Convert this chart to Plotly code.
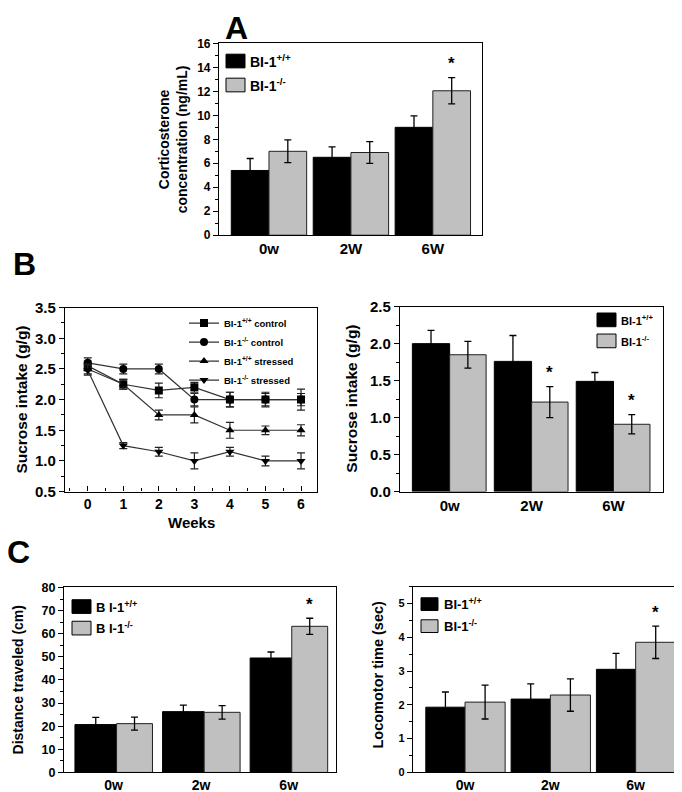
import plotly.graph_objects as go

W, H = 682, 792


def px(x):
    return x / W


def py(y):
    return 1 - y / H


# ---------------- data ----------------
# Panel A: corticosterone
cort_cats = ["0w", "2W", "6W"]
cort_wt = [5.4, 6.5, 9.0]
cort_wt_err = [1.0, 0.87, 0.95]
cort_ko = [7.0, 6.9, 12.05]
cort_ko_err = [0.95, 0.9, 1.1]

# Panel B left: sucrose intake time course
weeks = [0, 1, 2, 3, 4, 5, 6]
suc_wt_ctrl = [2.55, 2.25, 2.15, 2.2, 2.0, 2.0, 2.0]
suc_wt_ctrl_err = [0.08, 0.08, 0.12, 0.08, 0.12, 0.12, 0.1]
suc_ko_ctrl = [2.6, 2.5, 2.5, 2.0, 2.0, 2.0, 2.0]
suc_ko_ctrl_err = [0.08, 0.08, 0.08, 0.1, 0.12, 0.1, 0.17]
suc_wt_str = [2.5, 2.25, 1.75, 1.75, 1.5, 1.5, 1.5]
suc_wt_str_err = [0.08, 0.08, 0.08, 0.13, 0.13, 0.07, 0.09]
suc_ko_str = [2.48, 1.25, 1.15, 1.0, 1.15, 1.0, 1.0]
suc_ko_str_err = [0.08, 0.05, 0.07, 0.13, 0.07, 0.08, 0.13]

# Panel B right: sucrose intake bars
suc_cats = ["0w", "2W", "6W"]
suc_bar_wt = [2.0, 1.76, 1.49]
suc_bar_wt_err = [0.18, 0.35, 0.12]
suc_bar_ko = [1.85, 1.21, 0.91]
suc_bar_ko_err = [0.18, 0.21, 0.13]

# Panel C left: distance traveled
loc_cats = ["0w", "2w", "6w"]
dist_wt = [20.7, 26.3, 49.5]
dist_wt_err = [3.1, 2.8, 2.6]
dist_ko = [21.1, 26.0, 63.2]
dist_ko_err = [2.8, 2.9, 3.5]

# Panel C right: locomotor time
loco_wt = [1.93, 2.17, 3.05]
loco_wt_err = [0.45, 0.45, 0.47]
loco_ko = [2.08, 2.29, 3.85]
loco_ko_err = [0.5, 0.48, 0.48]

BLACK = "#000000"
GRAY = "#c0c0c0"
FONT = "Liberation Sans, Arial, sans-serif"

fig = go.Figure()


def err(vals, w=3.5):
    return dict(type="data", array=vals, visible=True, color="black",
                thickness=1.3, width=w)


def add_bar_pair(cats, wt, wt_e, ko, ko_e, xa, ya, ow, ww, og, wg):
    fig.add_trace(go.Bar(x=cats, y=wt, error_y=err(wt_e), marker=dict(
        color=BLACK, line=dict(color="black", width=1)), offset=ow, width=ww,
        xaxis=xa, yaxis=ya, showlegend=False))
    fig.add_trace(go.Bar(x=cats, y=ko, error_y=err(ko_e), marker=dict(
        color=GRAY, line=dict(color="#202020", width=1)), offset=og, width=wg,
        xaxis=xa, yaxis=ya, showlegend=False))


add_bar_pair(cort_cats, cort_wt, cort_wt_err, cort_ko, cort_ko_err,
             "x", "y", -0.46, 0.46, 0.0, 0.46)
add_bar_pair(suc_cats, suc_bar_wt, suc_bar_wt_err, suc_bar_ko, suc_bar_ko_err,
             "x3", "y3", -0.455, 0.455, 0.0, 0.445)
add_bar_pair(loc_cats, dist_wt, dist_wt_err, dist_ko, dist_ko_err,
             "x4", "y4", -0.44, 0.475, 0.035, 0.41)
add_bar_pair(loc_cats, loco_wt, loco_wt_err, loco_ko, loco_ko_err,
             "x5", "y5", -0.46, 0.46, 0.0, 0.47)

# time course
series = [
    ("BI-1<sup>+/+</sup> control", suc_wt_ctrl, suc_wt_ctrl_err, "square"),
    ("BI-1<sup>-/-</sup> control", suc_ko_ctrl, suc_ko_ctrl_err, "circle"),
    ("BI-1<sup>+/+</sup> stressed", suc_wt_str, suc_wt_str_err, "triangle-up"),
    ("BI-1<sup>-/-</sup> stressed", suc_ko_str, suc_ko_str_err, "triangle-down"),
]
for i, (name, vals, e, sym) in enumerate(series):
    fig.add_trace(go.Scatter(
        x=weeks, y=vals, name=name, mode="lines+markers",
        line=dict(color="#333333", width=1.2),
        marker=dict(symbol=sym, size=8, color="black"),
        error_y=dict(type="data", array=e, visible=True, color="#222222",
                     thickness=1.2, width=4),
        xaxis="x2", yaxis="y2"))


def yax(y0, y1, rng, dtick, minor, anchor, fsize=12):
    return dict(domain=[py(y1), py(y0)], range=rng, dtick=dtick,
                anchor=anchor, showline=True, mirror=True, linecolor="black",
                linewidth=1.2, ticks="outside", ticklen=5, tickwidth=1.2,
                tickcolor="black", showgrid=False, zeroline=False,
                minor=dict(dtick=minor, ticks="outside", ticklen=3,
                           tickcolor="black", tickwidth=1),
                tickfont=dict(family=FONT, size=fsize, color="black", weight="bold"))


def xcat(x0, x1, rng, anchor, fsize=15):
    return dict(domain=[px(x0), px(x1)], range=rng, type="category",
                anchor=anchor, showline=True, mirror=True, linecolor="black",
                linewidth=1.2, ticks="", showgrid=False, zeroline=False,
                tickfont=dict(family=FONT, size=fsize, color="black", weight="bold"))


layout = dict(
    width=W, height=H, margin=dict(l=0, r=0, t=0, b=0),
    paper_bgcolor="white", plot_bgcolor="white", barmode="overlay",
    font=dict(family=FONT, color="black"),
)

# A
layout["xaxis"] = xcat(211, 474, [-0.61, 2.6], "y", 15)
layout["yaxis"] = yax(27, 223, [0, 16], 2, 1, "x", 12)
# B left
layout["xaxis2"] = dict(domain=[px(57), px(309)], range=[-0.64, 6.45], dtick=1,
                        anchor="y2", showline=True, mirror=True, linecolor="black",
                        linewidth=1.2, ticks="inside", ticklen=5, tickwidth=1.2,
                        tickcolor="black", showgrid=False, zeroline=False,
                        minor=dict(dtick=0.5, ticks="inside", ticklen=3,
                                   tickcolor="black"),
                        tickfont=dict(family=FONT, size=14, color="black", weight="bold"))
layout["yaxis2"] = yax(297, 485, [0.5, 3.5], 0.5, 0.25, "x2", 15)
layout["yaxis2"]["tickformat"] = ".1f"
# B right
layout["xaxis3"] = xcat(392, 655, [-0.606, 2.604], "y3", 15)
layout["yaxis3"] = yax(296, 485, [0, 2.5], 0.5, 0.25, "x3", 15)
layout["yaxis3"]["tickformat"] = ".1f"
# C left
layout["xaxis4"] = xcat(56, 328, [-0.565, 2.54], "y4", 14)
layout["yaxis4"] = yax(583, 772, [0, 80], 10, 5, "x4", 12.5)
# C right
layout["xaxis5"] = xcat(405, 678, [-0.61, 2.59], "y5", 14)
layout["yaxis5"] = yax(582, 772, [0, 5.5], 1, 0.5, "x5", 11)

layout["legend"] = dict(x=px(176), y=py(298), xanchor="left", yanchor="top",
                        bgcolor="rgba(0,0,0,0)", borderwidth=0,
                        itemwidth=30, tracegroupgap=0,
                        font=dict(family=FONT, size=9.5, color="black", weight="bold"))
fig.update_layout(**layout)

ann = []
shapes = []


def text(x, y, t, size, angle=0, xanchor="center"):
    ann.append(dict(x=px(x), y=py(y), xref="paper", yref="paper", text=t,
                    showarrow=False, textangle=angle, xanchor=xanchor,
                    yanchor="middle",
                    font=dict(family=FONT, size=size, color="black", weight="bold")))


# panel letters
text(215, 11, "A", 32, xanchor="left")
text(3, 252, "B", 32, xanchor="left")
text(-3, 547, "C", 32, xanchor="left")

# y titles
text(165, 125, "Corticosterone<br>concentration (ng/mL)", 14, -90)
text(14, 391, "Sucrose intake (g/g)", 15.5, -90)
text(344, 390, "Sucrose intake (g/g)", 15.5, -90)
text(10, 678, "Distance traveled (cm)", 14, -90)
text(370, 672, "Locomotor time (sec)", 14.5, -90)
text(183, 517, "Weeks", 15)


# legends built from shapes + text
def box_legend(x0, x1, yb1, yb2, tx, size, label, h=14):
    for yc_, col, sup in ((yb1, BLACK, "+/+"), (yb2, GRAY, "-/-")):
        shapes.append(dict(type="rect", xref="paper", yref="paper",
                           x0=px(x0), x1=px(x1), y0=py(yc_ + h / 2), y1=py(yc_ - h / 2),
                           fillcolor=col, line=dict(color="black", width=1)))
        text(tx, yc_, f"{label}<sup>{sup}</sup>", size, xanchor="left")


box_legend(218, 237, 45, 69.5, 240, 14, "BI-1", 14)
box_legend(589, 608, 309.5, 331, 611, 11, "BI-1", 14)
box_legend(64, 83, 602.5, 624.5, 86, 13, "B I-1", 14)
box_legend(413, 430, 600, 622.5, 434, 13, "BI-1", 13)


# significance stars (data coords on gray bars)
def star(xa, ya_, idx, val, e, pad):
    ann.append(dict(x=idx, y=val + e + pad, xref=xa, yref=ya_, text="*",
                    showarrow=False, yanchor="bottom",
                    font=dict(family=FONT, size=17, color="black", weight="bold")))


star("x", "y", 2.23, cort_ko[2], cort_ko_err[2], 0.2)
star("x3", "y3", 1.22, suc_bar_ko[1], suc_bar_ko_err[1], 0.03)
star("x3", "y3", 2.22, suc_bar_ko[2], suc_bar_ko_err[2], 0.03)
star("x4", "y4", 2.24, dist_ko[2], dist_ko_err[2], 0.8)
star("x5", "y5", 2.23, loco_ko[2], loco_ko_err[2], 0.05)

fig.update_layout(annotations=ann, shapes=shapes)
fig.write_html("out.html")
